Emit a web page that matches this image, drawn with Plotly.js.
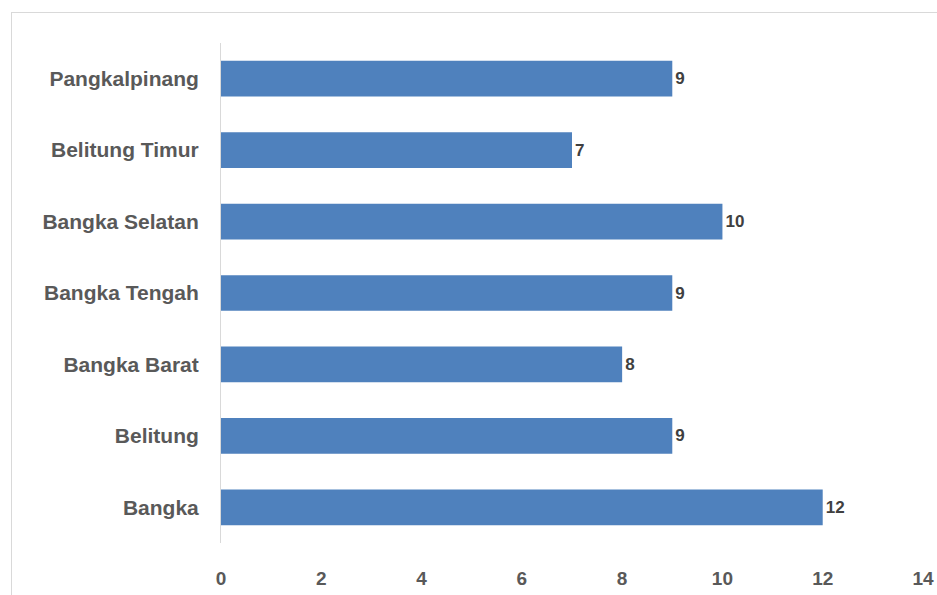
<!DOCTYPE html>
<html>
<head>
<meta charset="utf-8">
<script src="https://cdn.plot.ly/plotly-3.0.1.min.js"></script>
<style>
  html, body { margin: 0; padding: 0; background: #ffffff; overflow: hidden; }
  #frame { position: absolute; left: 11px; top: 12px; width: 1000px; height: 1000px; border: 1px solid #d9d9d9; box-sizing: border-box; }
  #chart { position: absolute; left: 0; top: 0; width: 937px; height: 595px; }
</style>
</head>
<body>
<div id="frame"></div>
<div id="chart"></div>
<script>
const categories = ["Bangka", "Belitung", "Bangka Barat", "Bangka Tengah", "Bangka Selatan", "Belitung Timur", "Pangkalpinang"];
const values = [12, 9, 8, 9, 10, 7, 9];
const xTicks = [0, 2, 4, 6, 8, 10, 12, 14];

const trace = {
  type: "bar",
  orientation: "h",
  y: categories,
  x: values,
  text: values.map(String),
  textposition: "outside",
  cliponaxis: false,
  textfont: { family: "Arial, Liberation Sans, sans-serif", size: 17, color: "#404040", weight: "bold" },
  marker: { color: "#4F81BD" },
  hoverinfo: "none"
};

const layout = {
  width: 937,
  height: 595,
  margin: { l: 221, r: 14, t: 43, b: 52, pad: 0 },
  paper_bgcolor: "rgba(0,0,0,0)",
  plot_bgcolor: "rgba(0,0,0,0)",
  bargap: 0.5,
  showlegend: false,
  font: { family: "Arial, Liberation Sans, sans-serif", color: "#595959" },
  xaxis: {
    range: [0, 14],
    tickvals: xTicks,
    ticktext: xTicks.map(String),
    showgrid: false,
    zeroline: false,
    showline: false,
    ticks: "outside",
    ticklen: 18,
    tickcolor: "rgba(0,0,0,0)",
    tickfont: { size: 19, color: "#595959", weight: "bold" }
  },
  yaxis: {
    type: "category",
    showgrid: false,
    zeroline: false,
    showline: true,
    linecolor: "#d9d9d9",
    linewidth: 1,
    ticks: "outside",
    ticklen: 17,
    tickcolor: "rgba(0,0,0,0)",
    tickfont: { size: 21, color: "#595959", weight: "bold" }
  }
};

Plotly.newPlot("chart", [trace], layout, { staticPlot: true, displayModeBar: false });
</script>
</body>
</html>
